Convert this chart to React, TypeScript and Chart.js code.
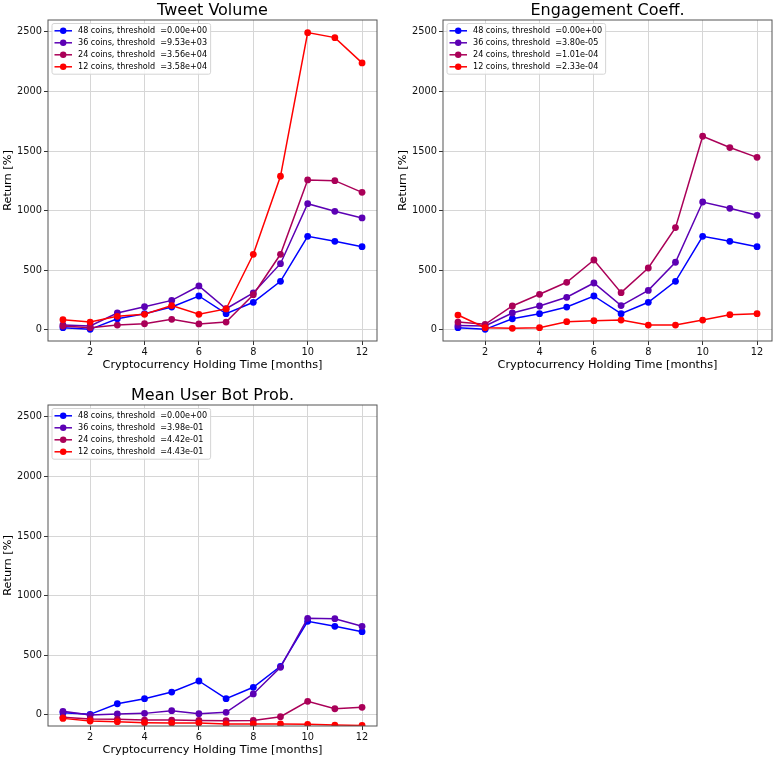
import React, { useEffect, useRef } from 'react';
import { Chart, registerables } from 'chart.js';

Chart.register(...registerables);

// ---------- data ----------
const months = [1, 2, 3, 4, 5, 6, 7, 8, 9, 10, 11, 12];
const xTicks = [2, 4, 6, 8, 10, 12];
const yTicks = [0, 500, 1000, 1500, 2000, 2500];
const coinCounts = [48, 36, 24, 12];
const seriesColors = ['#0000ff', '#5c00b4', '#aa0058', '#ff0000'];

const tweetThresholds = ['0.00e+00', '9.53e+03', '3.56e+04', '3.58e+04'];
const engagementThresholds = ['0.00e+00', '3.80e-05', '1.01e-04', '2.33e-04'];
const botThresholds = ['0.00e+00', '3.98e-01', '4.42e-01', '4.43e-01'];

const all48 = [17, 3, 92, 134, 190, 283, 134, 230, 406, 784, 742, 697];

const tweet36 = [40, 31, 140, 193, 246, 367, 176, 308, 554, 1058, 994, 938];
const tweet24 = [30, 17, 39, 50, 87, 48, 64, 294, 633, 1257, 1251, 1153];
const tweet12 = [84, 64, 112, 129, 202, 129, 174, 633, 1288, 2494, 2452, 2240];

const eng36 = [36, 31, 140, 199, 272, 392, 202, 330, 566, 1072, 1019, 960];
const eng24 = [64, 45, 199, 297, 398, 585, 311, 518, 857, 1624, 1529, 1447];
const eng12 = [123, 17, 11, 17, 67, 76, 81, 39, 39, 81, 126, 134];

const bot36 = [28, -3, 6, 11, 34, 8, 20, 174, 398, 809, 806, 742];
const bot24 = [-22, -36, -39, -45, -45, -48, -50, -48, -17, 112, 50, 62];
const bot12 = [-31, -53, -59, -67, -70, -70, -78, -78, -78, -81, -87, -90];

const Y_MIN = -95;
const Y_MAX = 2600;
const X_MIN = 0.45;
const X_MAX = 12.55;

const FONT = '"DejaVu Sans"';

// ---------- plugin: frame, title, legend ----------
const framePlugin = {
  id: 'frame',
  afterDatasetsDraw(chart: any, _args: any, opts: any) {
    const { ctx, chartArea: a } = chart;
    ctx.save();
    ctx.strokeStyle = '#555555';
    ctx.lineWidth = 1;
    ctx.strokeRect(a.left, a.top, a.right - a.left, a.bottom - a.top);

    // title
    ctx.fillStyle = '#000';
    ctx.font = `16px ${FONT}`;
    ctx.textAlign = 'center';
    ctx.textBaseline = 'alphabetic';
    ctx.fillText(opts.title, (a.left + a.right) / 2, a.top - 5);

    // legend
    ctx.font = `8.1px ${FONT}`;
    const ds = chart.data.datasets;
    let maxW = 0;
    ds.forEach((d: any) => {
      maxW = Math.max(maxW, ctx.measureText(d.label).width);
    });
    const bx = a.left + 4;
    const by = a.top + 3.5;
    const bw = 26 + maxW + 3.5;
    const bh = 50.7;
    ctx.beginPath();
    if ((ctx as any).roundRect) (ctx as any).roundRect(bx, by, bw, bh, 2);
    else ctx.rect(bx, by, bw, bh);
    ctx.fillStyle = 'rgba(255,255,255,0.85)';
    ctx.fill();
    ctx.strokeStyle = '#d4d4d4';
    ctx.lineWidth = 1;
    ctx.stroke();
    ds.forEach((d: any, i: number) => {
      const cy = by + 7.3 + 12 * i;
      ctx.strokeStyle = d.borderColor;
      ctx.lineWidth = 1.5;
      ctx.beginPath();
      ctx.moveTo(bx + 2.5, cy);
      ctx.lineTo(bx + 20, cy);
      ctx.stroke();
      ctx.fillStyle = d.borderColor;
      ctx.beginPath();
      ctx.arc(bx + 11.2, cy, 3.2, 0, Math.PI * 2);
      ctx.fill();
      ctx.fillStyle = '#000';
      ctx.textAlign = 'left';
      ctx.textBaseline = 'middle';
      ctx.fillText(d.label, bx + 26, cy + 0.5);
    });
    ctx.restore();
  },
};

// ---------- subplot ----------
type Box = { left: number; top: number; width: number; height: number; padTop: number; padRight: number };

function Subplot({ title, thresholds, series, box }: { title: string; thresholds: string[]; series: number[][]; box: Box }) {
  const ref = useRef<HTMLCanvasElement | null>(null);

  useEffect(() => {
    if (!ref.current) return;
    const datasets = series.map((vals, i) => ({
      label: `${coinCounts[i]} coins, threshold  =${thresholds[i]}`,
      data: months.map((m, j) => ({ x: m, y: vals[j] })),
      borderColor: seriesColors[i],
      backgroundColor: seriesColors[i],
      pointBackgroundColor: seriesColors[i],
      pointBorderWidth: 0,
      pointRadius: 3.4,
      borderWidth: 1.5,
      tension: 0,
      order: series.length - 1 - i,
    }));

    const chart = new Chart(ref.current, {
      type: 'line',
      data: { datasets },
      plugins: [framePlugin],
      options: {
        animation: false,
        responsive: false,
        devicePixelRatio: 1,
        layout: { padding: { top: box.padTop, right: box.padRight, left: 0, bottom: 0 } },
        plugins: {
          legend: { display: false },
          tooltip: { enabled: false },
          title: { display: false },
          frame: { title },
        } as any,
        scales: {
          x: {
            type: 'linear',
            min: X_MIN,
            max: X_MAX,
            afterBuildTicks: (s: any) => {
              s.ticks = xTicks.map((v) => ({ value: v }));
            },
            afterFit: (s: any) => {
              s.height = 33;
            },
            ticks: {
              autoSkip: false,
              maxRotation: 0,
              padding: 2,
              color: '#111',
              font: { family: FONT, size: 9.8 },
              callback: (v: any) => String(v),
            },
            grid: {
              color: '#d6d6d6',
              lineWidth: 1,
              drawTicks: true,
              tickLength: 4,
              tickColor: '#333',
            },
            border: { display: false },
            title: {
              display: true,
              text: 'Cryptocurrency Holding Time [months]',
              color: '#000',
              font: { family: FONT, size: 11.3, lineHeight: 1.2 },
              padding: { top: 0, bottom: 2 },
            },
          },
          y: {
            type: 'linear',
            min: Y_MIN,
            max: Y_MAX,
            afterBuildTicks: (s: any) => {
              s.ticks = yTicks.map((v) => ({ value: v }));
            },
            afterFit: (s: any) => {
              s.width = 48;
            },
            ticks: {
              autoSkip: false,
              padding: 2,
              color: '#111',
              font: { family: FONT, size: 9.8 },
              callback: (v: any) => String(v),
            },
            grid: {
              color: '#d6d6d6',
              lineWidth: 1,
              drawTicks: true,
              tickLength: 4,
              tickColor: '#333',
            },
            border: { display: false },
            title: {
              display: true,
              text: 'Return [%]',
              color: '#000',
              font: { family: FONT, size: 11.3, lineHeight: 1.2 },
              padding: { top: 1.2, bottom: 0 },
            },
          },
        },
      } as any,
    });
    return () => chart.destroy();
  }, []);

  return (
    <canvas
      ref={ref}
      width={box.width}
      height={box.height}
      style={{ position: 'absolute', left: box.left, top: box.top, width: box.width, height: box.height }}
    />
  );
}

export default function App() {
  return (
    <div
      style={{
        position: 'fixed',
        left: 0,
        top: 0,
        width: 776,
        height: 759,
        overflow: 'hidden',
        background: '#fff',
      }}
    >
      <Subplot
        title="Tweet Volume"
        thresholds={tweetThresholds}
        series={[all48, tweet36, tweet24, tweet12]}
        box={{ left: 0, top: 0, width: 388, height: 374, padTop: 20, padRight: 11 }}
      />
      <Subplot
        title="Engagement Coeff."
        thresholds={engagementThresholds}
        series={[all48, eng36, eng24, eng12]}
        box={{ left: 395, top: 0, width: 381, height: 374, padTop: 20, padRight: 4 }}
      />
      <Subplot
        title="Mean User Bot Prob."
        thresholds={botThresholds}
        series={[all48, bot36, bot24, bot12]}
        box={{ left: 0, top: 380, width: 388, height: 379, padTop: 25, padRight: 11 }}
      />
    </div>
  );
}
